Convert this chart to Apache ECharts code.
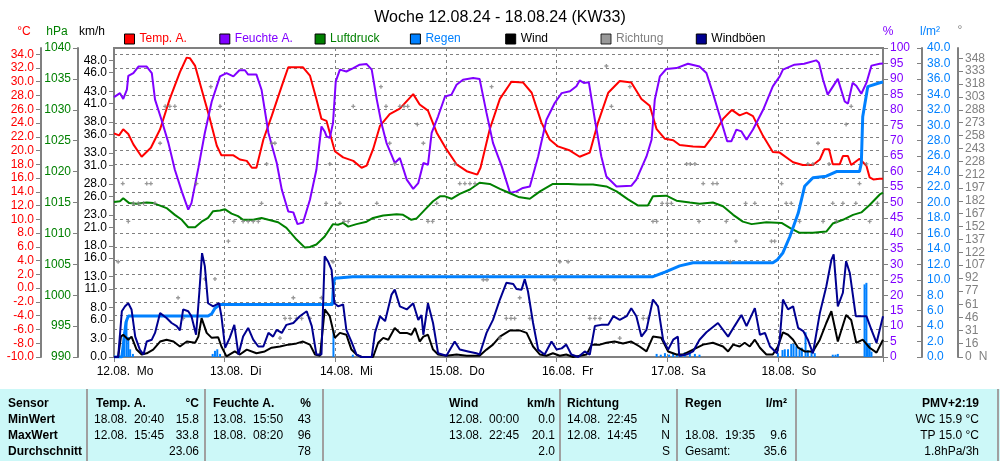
<!DOCTYPE html>
<html><head><meta charset="utf-8">
<script src="https://cdn.jsdelivr.net/npm/echarts@6/dist/echarts.min.js"></script>
<style>html,body{margin:0;padding:0;background:#fff}#c{width:1000px;height:461px}</style>
</head><body><div id="c"></div>
<script>
// x values are hours since 12.08.24 00:00
const dayLabels = ['12.08.  Mo','13.08.  Di','14.08.  Mi','15.08.  Do','16.08.  Fr','17.08.  Sa','18.08.  So'];
const kmhTicks = [0,3,6,8,11,13,16,18,21,23,26,28,31,33,36,38,41,43,46,48];
const dirTicks = [0,16,31,46,61,77,92,107,122,137,152,167,182,197,212,228,243,258,273,288,303,318,333,348];

const tempData = [[0,22.5],[1.1,22.2],[2.0,23.1],[3.1,22.4],[4.2,20.9],[6.0,19.1],[8.0,20.4],[10.0,23.1],[12.1,27.5],[14.3,31.4],[15.75,33.5],[16.5,33.4],[17.6,32.3],[19.0,28.9],[20.8,24.6],[22.3,20.7],[23.3,19.3],[25.9,19.3],[27.3,18.7],[28.8,18.5],[29.9,17.5],[30.9,17.5],[32.4,21.6],[34.2,25.0],[36.4,29.4],[37.8,32.1],[41.0,32.1],[42.5,30.9],[43.9,27.5],[45.0,24.6],[46.1,24.3],[47.9,19.9],[49.7,19.0],[51.9,18.5],[53.7,17.5],[54.8,17.8],[56.2,20.2],[57.7,23.6],[59.8,25.3],[62.0,26.1],[64.9,28.2],[66.3,26.7],[68.1,25.8],[70.0,22.6],[72.1,20.2],[74.3,18.0],[76.5,17.0],[78.8,16.5],[79.5,17.5],[81.5,23.1],[83.7,27.5],[86.2,30.0],[88.7,29.9],[90.6,28.4],[92.7,24.1],[94.5,21.6],[96.3,20.6],[98.9,20.0],[101.0,19.1],[103.2,19.7],[105.0,24.1],[107.2,28.4],[109.7,30.1],[112.2,29.9],[114.4,27.5],[116.2,26.5],[117.7,23.1],[119.5,21.7],[121.3,21.5],[122.7,20.8],[125.6,20.6],[128.1,20.5],[129.9,22.1],[132.1,24.6],[134.0,25.9],[135.7,25.1],[137.2,25.5],[138.6,25.0],[140.8,22.1],[142.9,19.8],[144.4,19.7],[147.3,18.3],[149.4,17.9],[151.6,17.9],[153.1,18.7],[154.1,20.2],[155.1,20.2],[155.9,18.0],[157.4,18.0],[158.1,19.2],[159.2,19.2],[159.9,17.9],[161.7,18.8],[163.2,17.8],[163.9,16.1],[164.7,15.8],[166.1,15.9],[166.8,15.9]];

const humData = [[0,84.1],[1.3,85.4],[2.0,83.5],[2.8,86.5],[3.1,91.0],[4.2,91.9],[5.3,94.0],[7.1,94.0],[8.2,91.9],[8.9,83.3],[10.3,76.8],[11.8,69.3],[13.2,60.6],[14.7,53.6],[16.1,47.7],[16.8,49.8],[18.3,61.2],[19.7,72.5],[21.2,82.7],[23.0,90.8],[24.4,91.9],[25.9,90.8],[27.2,92.8],[28.4,92.8],[29.1,91.4],[30.9,91.4],[32.0,86.5],[33.5,72.5],[35.3,62.8],[36.4,54.1],[37.8,47.1],[38.9,46.8],[39.8,43.0],[41.0,43.5],[42.5,50.9],[43.9,60.6],[45.0,74.6],[45.7,73.0],[46.1,71.4],[46.8,70.9],[47.5,75.7],[48.1,89.2],[49.0,93.0],[50.4,92.4],[51.9,93.5],[53.3,94.6],[54.8,94.8],[55.9,93.0],[57.0,83.3],[58.0,75.7],[59.1,69.3],[60.9,62.8],[62.0,64.4],[63.5,57.4],[64.9,54.4],[66.0,56.3],[67.1,62.8],[68.1,62.2],[68.9,72.5],[70.3,77.9],[71.8,84.3],[73.2,84.9],[74.3,88.1],[75.7,89.7],[77.9,90.3],[79.3,90.0],[80.8,79.0],[82.2,69.3],[84.1,61.7],[85.9,53.1],[87.3,53.6],[88.7,54.7],[90.2,55.2],[92.0,64.9],[93.8,76.8],[95.6,82.2],[97.1,85.4],[98.9,86.0],[100.3,87.6],[101.0,89.5],[101.9,88.7],[103.0,88.9],[104.3,76.8],[105.7,64.9],[106.8,58.4],[109.0,55.2],[112.2,55.4],[113.3,57.4],[115.5,64.9],[116.6,70.3],[117.3,83.3],[118.4,90.8],[119.8,93.2],[122.0,93.5],[124.5,94.9],[127.0,94.0],[128.5,91.9],[129.9,85.4],[131.4,77.9],[133.0,69.8],[133.9,69.8],[135.0,73.6],[136.1,73.0],[137.2,70.3],[138.6,73.6],[140.8,80.0],[142.9,87.6],[144.4,90.8],[145.1,93.0],[147.6,94.6],[149.7,94.9],[152.3,96.0],[152.9,95.2],[153.8,89.7],[154.8,84.9],[157.0,90.0],[158.5,82.7],[159.2,82.0],[160.2,88.7],[161.0,87.8],[162.1,85.2],[163.2,88.7],[164.3,94.3],[166.1,94.9],[166.8,95.0]];

const pressData = [[0,1015.1],[1.3,1015.2],[2.0,1015.7],[3.3,1014.9],[4.9,1014.8],[7.1,1015.0],[8.5,1014.9],[10.0,1014.5],[11.4,1014.1],[13.2,1013.0],[14.7,1012.2],[16.1,1011.0],[17.6,1011.0],[19.0,1011.9],[20.4,1012.5],[21.5,1013.6],[23.0,1013.7],[24.1,1013.9],[25.5,1013.2],[26.9,1012.8],[28.0,1012.2],[30.2,1012.2],[32.0,1012.5],[33.5,1012.2],[35.6,1011.8],[37.4,1010.9],[39.6,1009.0],[41.4,1007.7],[42.5,1007.8],[43.9,1008.2],[45.7,1009.5],[47.5,1011.5],[48.6,1011.4],[49.7,1011.7],[50.8,1011.1],[52.6,1011.5],[54.8,1011.9],[56.2,1012.5],[58.4,1012.9],[61.3,1013.1],[62.7,1013.0],[64.5,1012.2],[65.6,1012.4],[67.4,1013.8],[69.2,1015.2],[70.7,1016.0],[71.8,1016.0],[73.2,1015.6],[75.0,1016.4],[77.2,1017.1],[79.3,1018.2],[81.5,1018.0],[83.7,1017.2],[85.9,1016.5],[87.7,1015.9],[90.2,1015.6],[92.4,1016.8],[95.2,1018.0],[98.5,1018.0],[101.0,1017.9],[103.9,1017.9],[106.8,1017.6],[109.0,1016.8],[111.5,1015.5],[113.7,1014.5],[115.8,1014.5],[116.9,1016.0],[119.8,1016.1],[122.0,1015.3],[124.9,1015.0],[127.0,1014.8],[129.9,1015.0],[132.1,1014.4],[134.3,1013.0],[136.4,1011.9],[138.3,1011.5],[141.5,1011.8],[144.8,1011.7],[146.6,1010.9],[148.7,1010.1],[151.6,1010.1],[154.5,1010.3],[155.9,1011.6],[158.1,1012.2],[160.3,1013.0],[162.1,1013.4],[163.9,1014.6],[166.1,1016.3],[166.8,1016.6]];

const rainSumData = [[0,0],[1.7,0],[2.1,2.0],[2.6,4.5],[3.1,5.3],[20.4,5.3],[21.2,5.6],[21.9,6.3],[23.0,6.8],[47.4,6.8],[47.6,9.5],[47.9,10.2],[51.8,10.4],[116.9,10.4],[119.5,11.0],[122.7,11.8],[125.6,12.2],[142.9,12.2],[143.9,12.6],[145.1,13.5],[146.6,15.6],[148.4,18.6],[149.8,22.1],[151.6,23.2],[154.5,23.4],[156.7,24.0],[161.7,24.0],[162.1,25.1],[162.4,31.1],[163.5,35.0],[166.1,35.5],[166.8,35.6]];

const rainBarData = [[2.2,3.2],[2.7,4.8],[3.1,2.6],[3.5,1.0],[4.1,0.4],[21.4,0.4],[21.9,0.8],[22.4,1.0],[23.0,0.4],[47.6,3.5],[51.8,0.3],[117.7,0.4],[118.6,0.3],[119.5,0.5],[120.4,0.3],[121.3,0.5],[122.1,0.4],[123.0,0.3],[123.8,0.6],[124.9,0.5],[126.0,0.4],[127.0,0.3],[144.0,0.5],[145.0,0.9],[145.5,1.0],[146.2,1.0],[146.9,1.7],[147.4,1.7],[148.0,1.4],[148.7,1.0],[149.2,1.2],[150.0,3.2],[150.5,0.9],[151.3,0.7],[152.0,0.5],[155.9,0.3],[156.5,0.3],[157.0,0.4],[162.8,9.4],[163.2,9.6],[163.5,1.8],[163.9,1.8],[164.3,0.7]];

const windData = [[0,0],[0.9,0],[1.5,3.3],[2.0,3.6],[3.1,2.8],[3.8,3.3],[4.9,1.2],[6.0,0.4],[7.1,0.6],[8.5,1.2],[10.0,2.5],[11.4,2.8],[12.9,2.5],[14.3,1.7],[15.8,2.5],[17.6,2.3],[18.3,3.3],[19.0,6.3],[20.1,3.9],[21.2,3.1],[22.6,3.2],[23.3,1.7],[24.4,0.1],[26.2,0.9],[27.3,0.4],[28.8,1.2],[30.9,0.6],[32.7,0.9],[34.2,1.5],[36.0,1.7],[37.8,2.0],[39.6,2.2],[41.0,2.5],[42.5,2.0],[43.6,0.4],[44.7,0.2],[45.7,7.7],[46.8,6.6],[47.9,3.1],[49.0,3.9],[50.4,3.6],[51.5,1.2],[52.6,0.4],[53.7,0],[56.2,0],[57.3,2.3],[58.4,3.1],[59.5,2.8],[60.9,4.7],[62.0,3.9],[63.5,3.9],[64.5,3.6],[65.3,4.7],[66.3,2.5],[67.1,3.3],[68.1,3.6],[69.2,1.2],[70.3,0.4],[72.1,0.2],[74.3,0.4],[76.5,0.2],[79.3,0.2],[80.8,1.2],[82.2,2.0],[83.7,3.3],[85.9,4.3],[88.0,4.3],[89.5,3.9],[90.9,1.7],[92.4,0.4],[93.8,0.2],[95.2,0.6],[96.7,0.2],[98.1,0.4],[99.6,0],[102.5,0.4],[103.6,2.0],[105.4,2.0],[106.8,2.3],[108.6,2.5],[110.4,2.2],[112.2,2.5],[114.0,1.7],[115.5,0.9],[116.9,3.3],[118.7,3.1],[120.2,0.9],[122.0,0.4],[123.4,0.4],[125.6,1.2],[127.8,2.0],[129.9,2.3],[132.1,1.7],[133.2,0.9],[134.3,2.0],[135.7,1.7],[136.8,2.3],[137.9,1.7],[139.0,2.8],[140.1,1.5],[141.5,0.4],[142.9,0.4],[144.0,1.7],[145.1,4.0],[146.2,3.6],[147.3,2.8],[148.4,1.5],[149.8,0.9],[151.6,0.9],[153.1,2.8],[154.5,5.5],[155.6,7.4],[157.0,2.5],[158.8,6.8],[159.9,6.0],[161.0,2.3],[162.4,2.8],[163.9,1.5],[165.4,0.7],[166.8,2.8]];

const gustData = [[0,0],[0.9,0],[1.7,7.4],[2.4,8.2],[3.1,8.7],[3.8,7.7],[4.6,3.3],[5.6,1.2],[6.4,0.4],[7.1,2.5],[8.2,2.8],[8.9,3.9],[10.0,7.1],[11.4,6.3],[12.5,5.5],[13.6,5.0],[14.3,4.3],[15.0,7.7],[16.1,7.4],[16.8,6.6],[17.8,3.6],[18.5,10.4],[19.1,16.8],[19.7,14.7],[20.4,8.7],[21.5,8.2],[22.8,8.7],[23.3,6.6],[24.1,1.5],[25.1,3.1],[26.1,5.2],[27.0,0.4],[28.0,3.3],[29.1,4.7],[30.2,2.8],[31.3,1.7],[32.4,1.7],[33.5,3.9],[34.5,3.3],[35.3,4.4],[36.4,3.9],[37.4,5.2],[38.9,5.5],[40.3,6.6],[41.8,7.4],[42.9,5.0],[43.9,0.4],[45.0,0.4],[45.7,16.3],[46.4,15.5],[47.2,14.1],[47.8,8.7],[48.6,8.2],[49.7,8.5],[50.4,4.4],[51.5,2.5],[52.6,0.4],[53.7,0],[55.9,0],[56.6,3.9],[57.7,6.6],[58.8,5.8],[60.2,10.1],[60.9,10.9],[62.0,8.2],[63.5,7.7],[64.9,8.7],[66.0,6.0],[66.7,6.8],[67.1,3.6],[68.1,8.7],[69.2,5.5],[70.3,0.6],[72.1,0.2],[73.9,2.5],[75.0,1.2],[76.8,0.9],[78.6,0.6],[79.3,0.4],[80.8,3.9],[82.2,6.0],[83.7,9.3],[85.1,12.0],[86.6,11.8],[87.3,11.0],[88.4,10.9],[89.1,12.6],[89.8,10.6],[90.9,5.5],[92.0,1.2],[93.4,0.4],[94.9,2.5],[96.0,1.2],[97.1,1.4],[98.1,2.0],[99.2,0.4],[100.7,0],[102.1,0.9],[103.2,0.4],[104.3,5.0],[105.7,5.2],[107.2,5.2],[108.3,6.6],[109.7,6.0],[111.2,6.6],[112.2,7.9],[113.3,6.6],[114.4,3.3],[115.5,4.4],[116.9,9.3],[118.0,8.2],[119.1,2.8],[120.2,1.2],[121.3,2.8],[122.3,3.3],[122.6,0.2],[124.2,0.4],[125.6,0.9],[127.0,2.8],[128.5,4.0],[131.0,5.5],[133.2,3.3],[134.6,5.0],[136.1,6.8],[137.2,5.0],[139.0,7.9],[140.1,3.6],[141.2,3.9],[142.3,1.7],[143.8,0.6],[144.4,2.8],[145.1,9.3],[146.2,7.7],[147.3,8.2],[148.4,4.7],[149.5,4.2],[150.5,2.8],[151.6,0.6],[153.1,7.1],[154.5,11.4],[155.6,15.7],[156.1,16.6],[157.0,8.2],[158.1,10.4],[158.8,15.5],[159.6,13.6],[160.9,6.6],[162.1,6.6],[163.2,6.6],[164.3,4.4],[165.4,2.3],[166.8,6.6]];

const dirData = [[0.9,111],[1.9,202],[3.1,158],[4.2,179],[5.3,179],[6.4,179],[7.1,202],[8.0,202],[8.9,179],[10.0,249],[11.1,292],[12.1,292],[13.2,292],[13.9,69],[15.0,45],[17.9,202],[19.7,91],[21.0,315],[21.9,91],[23.0,292],[24.8,135],[26.0,158],[28.0,158],[29.1,158],[30.2,158],[31.3,158],[32.0,179],[33.1,225],[34.2,249],[34.9,249],[36.0,22],[37.1,45],[38.2,45],[38.9,69],[39.6,45],[40.7,45],[42.5,45],[45.0,69],[46.0,179],[46.8,225],[47.5,111],[49.0,179],[49.9,158],[50.8,158],[51.9,292],[57.0,179],[57.9,315],[59.0,292],[59.8,249],[60.9,225],[62.0,292],[62.9,292],[63.7,292],[65.8,271],[67.1,249],[68.1,158],[69.1,158],[70.0,179],[73.9,225],[75.0,202],[76.1,202],[77.2,202],[78.3,202],[80.1,90],[80.9,90],[81.9,315],[83.7,22],[85.1,45],[86.1,45],[86.9,45],[88.0,69],[90.2,45],[95.6,90],[96.7,111],[98.5,111],[103.2,45],[104.3,45],[105.4,45],[106.8,339],[107.9,292],[109.7,22],[111.9,315],[114.8,45],[115.8,45],[116.9,158],[117.7,158],[118.9,179],[120.0,179],[120.9,179],[124.2,225],[125.0,225],[126.0,225],[126.9,158],[127.8,202],[129.9,202],[130.8,202],[132.8,158],[133.7,111],[134.9,135],[137.0,179],[139.0,179],[142.6,135],[143.3,135],[144.8,202],[145.8,179],[146.9,179],[148.7,158],[150.5,225],[151.6,225],[152.7,249],[153.8,158],[155.1,225],[155.9,179],[156.7,158],[158.1,179],[158.8,271],[159.9,292],[160.9,179],[161.7,202],[163.2,225],[163.9,158],[165.6,179]];

const FONT = 'Liberation Sans, Arial, sans-serif';
const GRAY = '#808080';
const C = {temp:'#ff0000', hum:'#8000ff', press:'#008000', rain:'#0080ff', wind:'#000000', dir:'#808080', gust:'#000090'};
const legendNames = ['Temp. A.','Feuchte A.','Luftdruck','Regen','Wind','Richtung','Windböen'];
const legendColors = [C.temp, C.hum, C.press, C.rain, '#000', GRAY, '#000'];

function txt(text, x, y, opt) {
  opt = opt || {};
  return {type:'text', silent:true, style:{text:text, x:x, y:y, fill:opt.fill||'#000',
    font:(opt.bold?'bold ':'')+(opt.size||12)+'px '+FONT,
    align:opt.align||'left', verticalAlign:'middle', textAlign:opt.align||'left', textVerticalAlign:'middle'}};
}

const graphics = [];
graphics.push(txt('°C', 24, 32, {fill:C.temp, align:'center'}));
graphics.push(txt('hPa', 57, 32, {fill:C.press, align:'center'}));
graphics.push(txt('km/h', 92, 32, {fill:'#000', align:'center'}));
graphics.push(txt('%', 888, 32, {fill:C.hum, align:'center'}));
graphics.push(txt('l/m²', 930, 32, {fill:C.rain, align:'center'}));
graphics.push(txt('°', 960, 31, {fill:GRAY, align:'center'}));
graphics.push(txt('N', 983, 357, {fill:GRAY, align:'center'}));
graphics.push({type:'rect', silent:true, shape:{x:0, y:389, width:1000, height:72}, style:{fill:'#ccf8f8'}});
[87, 205, 323, 560, 677, 796, 998].forEach(function(x){
  graphics.push({type:'line', silent:true, shape:{x1:x, y1:389, x2:x, y2:461}, style:{stroke:'#a0a0a0', lineWidth:2}});
});
const rows = [404, 420, 436, 452];
const tableCells = [
  ['Sensor',8,0,'left',true],['MinWert',8,1,'left',true],['MaxWert',8,2,'left',true],['Durchschnitt',8,3,'left',true],
  ['Temp. A.',96,0,'left',true],['°C',199,0,'right',true],
  ['18.08.  20:40',94,1,'left'],['15.8',199,1,'right'],['12.08.  15:45',94,2,'left'],['33.8',199,2,'right'],['23.06',199,3,'right'],
  ['Feuchte A.',213,0,'left',true],['%',311,0,'right',true],
  ['13.08.  15:50',213,1,'left'],['43',311,1,'right'],['18.08.  08:20',213,2,'left'],['96',311,2,'right'],['78',311,3,'right'],
  ['Wind',449,0,'left',true],['km/h',555,0,'right',true],
  ['12.08.  00:00',449,1,'left'],['0.0',555,1,'right'],['13.08.  22:45',449,2,'left'],['20.1',555,2,'right'],['2.0',555,3,'right'],
  ['Richtung',567,0,'left',true],
  ['14.08.  22:45',567,1,'left'],['N',670,1,'right'],['12.08.  14:45',567,2,'left'],['N',670,2,'right'],['S',670,3,'right'],
  ['Regen',685,0,'left',true],['l/m²',787,0,'right',true],
  ['18.08.  19:35',685,2,'left'],['9.6',787,2,'right'],['Gesamt:',685,3,'left'],['35.6',787,3,'right'],
  ['PMV+2:19',979,0,'right',true],['WC 15.9 °C',979,1,'right'],['TP 15.0 °C',979,2,'right'],['1.8hPa/3h',979,3,'right']
];
tableCells.forEach(function(c){ graphics.push(txt(c[0], c[1], rows[c[2]], {align:c[3], bold:!!c[4]})); });

function sideAxis(o) {
  return Object.assign({
    type:'value', splitLine:{show:false},
    axisLine:{show:true, lineStyle:{color:GRAY, width:2}},
    axisTick:{show:true, length:5, lineStyle:{color:GRAY, width:1}},
  }, o);
}

// one legend component per item so that items sit at a fixed spacing
const legends = legendNames.map(function(n, i){
  return {left:124 + i*95.3, top:33, padding:0, itemWidth:10, itemHeight:10, icon:'rect',
    itemStyle:{borderColor:'#000', borderWidth:1},
    textStyle:{fontSize:12, fontFamily:FONT, color:legendColors[i]},
    data:[n]};
});

const option = {
  animation:false,
  backgroundColor:'#fff',
  textStyle:{fontFamily:FONT},
  title:{text:'Woche 12.08.24 - 18.08.24 (KW33)', left:'center', top:5,
    textStyle:{fontSize:16, fontWeight:'normal', color:'#000', fontFamily:FONT}},
  legend:legends,
  grid:{left:114, right:117, top:48, bottom:104, show:true, borderColor:GRAY, borderWidth:2, backgroundColor:'transparent'},
  xAxis:{type:'value', min:0, max:166.8, interval:24,
    axisLine:{show:false},
    axisTick:{show:true, length:5, lineStyle:{color:GRAY}},
    splitLine:{show:true, lineStyle:{color:GRAY, type:[3,3], width:1}},
    axisLabel:{margin:9, color:'#000', fontSize:12, fontFamily:FONT,
      formatter:function(v){ if (v % 24 !== 0) return ''; return '{a|' + dayLabels[Math.round(v/24)] + '}'; },
      rich:{a:{padding:[0,0,0,22], fontSize:12, color:'#000', fontFamily:FONT}}}},
  yAxis:[
    sideAxis({position:'left', offset:0, min:0, max:50,
      axisLine:{show:false},
      axisTick:{show:true, length:5, lineStyle:{color:GRAY}, customValues:kmhTicks},
      axisLabel:{color:'#000', fontSize:12, margin:7, customValues:kmhTicks, formatter:function(v){return v.toFixed(1);}}}),
    sideAxis({position:'left', offset:73, min:-10, max:34.9, interval:2,
      splitLine:{show:true, lineStyle:{color:GRAY, type:[3,3], width:1}},
      axisLabel:{color:C.temp, fontSize:12, margin:7, showMaxLabel:false,
        formatter:function(v){ return Number.isInteger(v) ? v.toFixed(1) : ''; }}}),
    sideAxis({position:'left', offset:36, min:990, max:1040, interval:5,
      axisLabel:{color:C.press, fontSize:12, margin:7, formatter:function(v){return String(v);}}}),
    sideAxis({position:'right', offset:0, min:0, max:100, interval:5,
      axisLine:{show:false},
      axisLabel:{color:C.hum, fontSize:12, margin:7, formatter:function(v){return String(v);}}}),
    sideAxis({position:'right', offset:39, min:0, max:40, interval:2,
      axisTick:{show:true, inside:true, length:5, lineStyle:{color:GRAY}},
      axisLabel:{color:C.rain, fontSize:12, margin:5, formatter:function(v){return v.toFixed(1);}}}),
    sideAxis({position:'right', offset:75, min:0, max:360,
      axisTick:{show:true, length:5, lineStyle:{color:GRAY}, customValues:dirTicks},
      axisLabel:{color:GRAY, fontSize:12, margin:7, customValues:dirTicks, formatter:function(v){return String(v);}}})
  ],
  series:[
    {name:'Regen', type:'bar', yAxisIndex:4, data:rainBarData, barWidth:2, itemStyle:{color:C.rain}, z:2},
    {name:'Temp. A.', type:'line', yAxisIndex:1, data:tempData, showSymbol:false, lineStyle:{color:C.temp, width:2}, itemStyle:{color:C.temp}, z:3},
    {name:'Feuchte A.', type:'line', yAxisIndex:3, data:humData, showSymbol:false, lineStyle:{color:C.hum, width:2}, itemStyle:{color:C.hum}, z:3},
    {name:'Luftdruck', type:'line', yAxisIndex:2, data:pressData, showSymbol:false, lineStyle:{color:C.press, width:2}, itemStyle:{color:C.press}, z:3},
    {name:'Regen', type:'line', yAxisIndex:4, data:rainSumData, showSymbol:false, lineStyle:{color:C.rain, width:3}, itemStyle:{color:C.rain}, z:4},
    {name:'Wind', type:'line', yAxisIndex:0, data:windData, showSymbol:false, lineStyle:{color:C.wind, width:2}, itemStyle:{color:C.wind}, z:5},
    {name:'Richtung', type:'scatter', yAxisIndex:5, data:dirData, symbol:'path://M1,0H2V1H3V2H2V3H1V2H0V1H1Z', symbolSize:4, itemStyle:{color:GRAY}, z:5},
    {name:'Windböen', type:'line', yAxisIndex:0, data:gustData, showSymbol:false, lineStyle:{color:C.gust, width:2}, itemStyle:{color:C.gust}, z:6}
  ],
  graphic:graphics
};
const chart = echarts.init(document.getElementById('c'), null, {renderer:'canvas'});
chart.setOption(option);
</script></body></html>
